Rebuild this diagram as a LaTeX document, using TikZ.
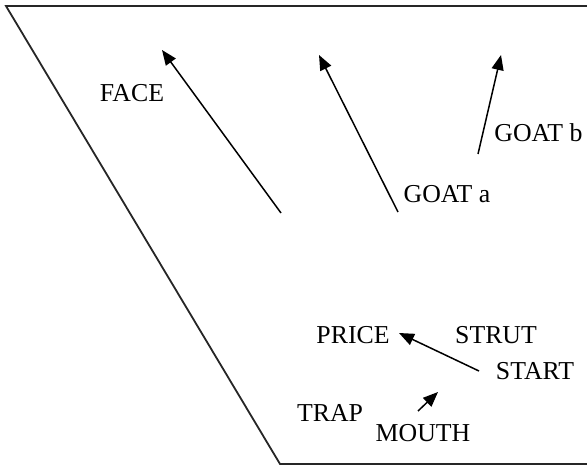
\documentclass[tikz,border=0pt]{standalone}
\usepackage{fontspec}
\setmainfont{Liberation Serif}
\usepackage{tikz}
\usetikzlibrary{arrows.meta}
\tikzset{
  lbl/.style={inner sep=0pt, font=\fontsize{12.9}{15}\selectfont},
  frame/.style={line width=0.9pt, black!85},
  arr/.style={-{Triangle[length=7.5pt, width=6pt]}, line width=0.75pt},
}
\begin{document}
\begin{tikzpicture}[x=0.5pt, y=-0.5pt]
  \useasboundingbox (0,0) rectangle (587,465);
  % outline
  \coordinate (tr) at (587,6);
  \coordinate (tl) at (6,6);
  \coordinate (bl) at (280,464);
  \coordinate (br) at (587,464);
  \draw[frame] (tr) -- (tl) -- (bl) -- (br);
  % labels
  \node[lbl] (face) at (132,93) {FACE};
  \node[lbl] (goata) at (447,194) {GOAT a};
  \node[lbl, anchor=west] (goatb) at (494,133) {GOAT b};
  \node[lbl] (price) at (353,335) {PRICE};
  \node[lbl] (strut) at (496,335) {STRUT};
  \node[lbl] (start) at (535,371) {START};
  \node[lbl] (trap) at (330,413) {TRAP};
  \node[lbl] (mouth) at (423,433) {MOUTH};
  % arrows
  \coordinate (facet) at (281,213);
  \coordinate (faceh) at (162,50);
  \coordinate (goatat) at (398,212);
  \coordinate (goatah) at (319,55);
  \coordinate (goatbt) at (478,154);
  \coordinate (goatbh) at (501,55);
  \coordinate (pricet) at (479,371);
  \coordinate (priceh) at (399,333);
  \coordinate (moutht) at (418,411);
  \coordinate (mouthh) at (438,392);
  \draw[arr] (facet) -- (faceh);
  \draw[arr] (goatat) -- (goatah);
  \draw[arr] (goatbt) -- (goatbh);
  \draw[arr] (pricet) -- (priceh);
  \draw[arr] (moutht) -- (mouthh);
\end{tikzpicture}
\end{document}
